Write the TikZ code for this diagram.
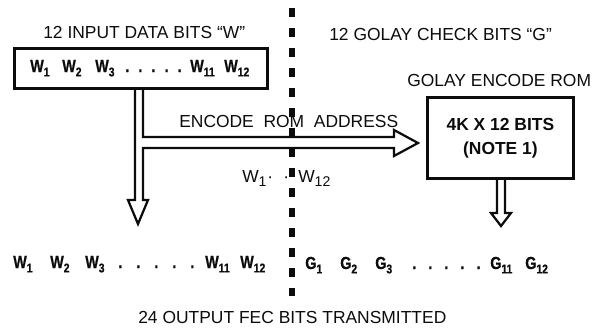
\documentclass[tikz,border=0pt]{standalone}
\usepackage{fontspec}
\setmainfont{Liberation Sans}
\newfontfamily\bitfont{Liberation Sans Bold}[FakeStretch=0.82, FakeBold=0.7]
\usepackage{tikz}
\usetikzlibrary{positioning, calc}
\definecolor{myink}{RGB}{12,12,12}
\newcommand{\bitsub}[2][9]{\raisebox{-0.25em}{\fontsize{#1}{#1}\selectfont #2}}
\newcommand{\bitdots}[1]{.\hspace{#1}.\hspace{#1}.\hspace{#1}.\hspace{#1}.}
\tikzset{
  txt/.style={font=\fontsize{12.4}{14}\selectfont, text=myink,
    inner sep=0pt, anchor=base west},
  bit/.style={font=\bitfont\fontsize{12.4}{14}\selectfont, text=myink,
    inner sep=0pt, anchor=base west},
  thickbox/.style={rectangle, draw=myink, line width=2.1pt, inner sep=0pt},
  hollow/.style={draw=myink, line width=1.6pt, line join=miter},
  divider/.style={draw=myink, line width=4.3pt, dash pattern=on 6.7pt off 7.5pt}
}

\begin{document}
\begin{tikzpicture}[x=0.025cm, y=-0.025cm]
  \useasboundingbox (0,0) rectangle (594,329);

  % headings
  \node[txt] (intitle) at (43,38) {12 INPUT DATA BITS “W”};
  \node[txt] (gtitle) at (329,40) {12 GOLAY CHECK BITS “G”};
  \node[txt] (romtitle) at (407,87) {GOLAY ENCODE ROM};
  \node[txt] (addr) at (179,128) {ENCODE\ \ ROM\ \ ADDRESS};
  \node[txt] (outtitle) at (138,323) {24 OUTPUT FEC BITS TRANSMITTED};

  % hollow arrows
  \draw[hollow] (135,88.5) -- (135,200) -- (128,200) -- (138,224) -- (148,200)
    -- (143,200) -- (143,148) -- (394,148) -- (394,156) -- (418,143)
    -- (394,130) -- (394,137) -- (143,137) -- (143,88.5);
  \draw[hollow] (497,178.4) -- (497,213) -- (491,213) -- (501,226) -- (511,213)
    -- (505,213) -- (505,178.4);

  % input word register
  \node[thickbox, minimum width=6.335cm, minimum height=0.99cm] (inbox) at (141,68.75) {};
  \foreach \x/\s [count=\i] in {30/1, 62/2, 95/3, 190/11, 224/12}
    \node[bit] (ib\i) at (\x,72) {W\bitsub{\s}};
  \node[bit] (ibdots) at (125,72) {\bitdots{6.5pt}};

  % encode rom
  \node[thickbox, minimum width=3.65cm, minimum height=2.02cm, align=center,
    font=\bfseries\fontsize{12.4}{17}\selectfont, text=myink] (rom) at (500.4,138)
    {4K X 12 BITS\\(NOTE 1)};

  \node[txt] (addrbits) at (242,182)
    {W\bitsub[10]{1}\hspace{0.5pt}·\hspace{7.3pt}·\hspace{6.5pt}W\bitsub[10]{12}};

  % transmitted word
  \foreach \x/\s [count=\i] in {13/1, 50/2, 85/3, 205/11, 240/12}
    \node[bit] (ow\i) at (\x,268) {W\bitsub{\s}};
  \node[bit] (owdots) at (118,268) {\bitdots{10pt}};
  \foreach \x/\s [count=\i] in {305/1, 340/2, 375/3, 490/11, 525/12}
    \node[bit] (og\i) at (\x,269) {G\bitsub{\s}};
  \node[bit] (ogdots) at (412,269) {\bitdots{8.6pt}};

  \draw[divider] (292,8) -- (292,296);
\end{tikzpicture}
\end{document}
